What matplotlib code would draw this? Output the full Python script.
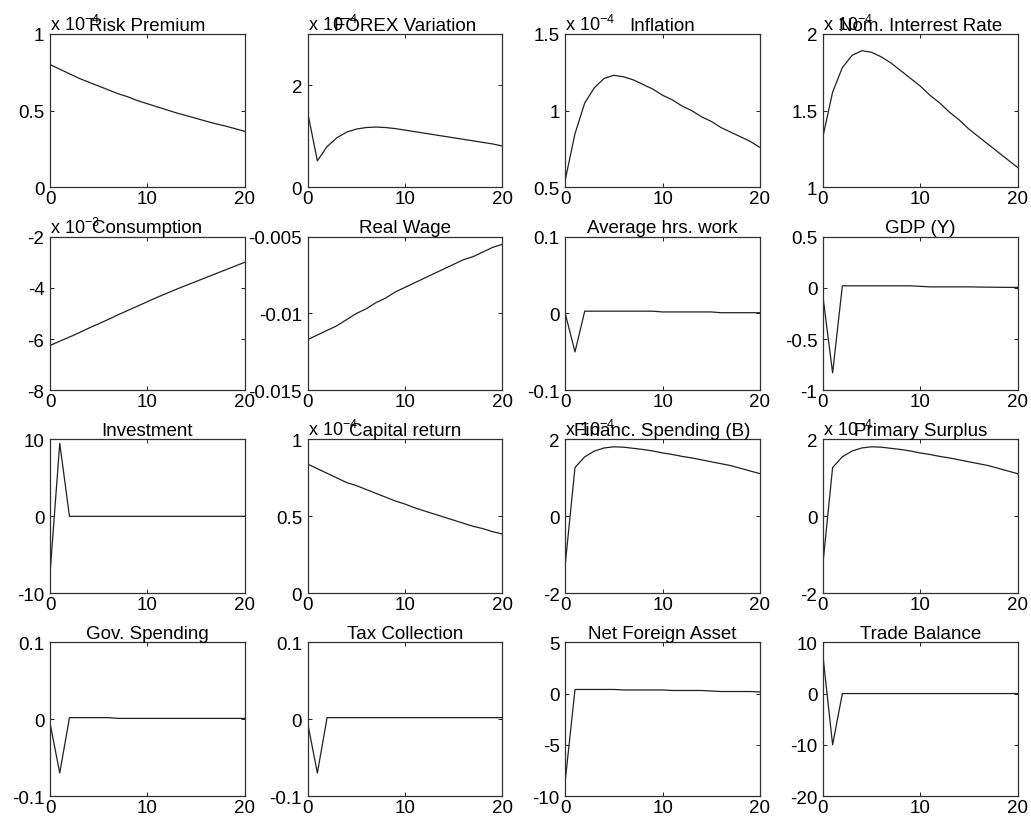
import numpy as np
import matplotlib
matplotlib.use('Agg')
import matplotlib.pyplot as plt

plt.rcParams['font.family'] = ['Liberation Sans', 'DejaVu Sans']
plt.rcParams['mathtext.default'] = 'regular'

# impulse responses, 21 periods
periods = list(range(21))

risk_premium = [0.80, 0.77, 0.74, 0.71, 0.685, 0.66, 0.635, 0.61, 0.59, 0.565, 0.545,
                0.525, 0.505, 0.485, 0.468, 0.45, 0.432, 0.415, 0.40, 0.383, 0.365]
forex = [1.47, 0.52, 0.80, 0.97, 1.08, 1.14, 1.17, 1.18, 1.17, 1.15, 1.12,
         1.09, 1.06, 1.03, 1.00, 0.97, 0.94, 0.91, 0.88, 0.85, 0.81]
inflation = [0.55, 0.85, 1.05, 1.15, 1.21, 1.23, 1.22, 1.20, 1.17, 1.14, 1.10,
             1.07, 1.03, 1.00, 0.96, 0.93, 0.89, 0.86, 0.83, 0.80, 0.76]
nom_rate = [1.33, 1.62, 1.78, 1.86, 1.89, 1.88, 1.85, 1.81, 1.76, 1.71, 1.66,
            1.60, 1.55, 1.49, 1.44, 1.38, 1.33, 1.28, 1.23, 1.18, 1.13]
consumption = [-6.25, -6.08, -5.92, -5.75, -5.57, -5.40, -5.23, -5.05, -4.88, -4.71, -4.54,
               -4.37, -4.21, -4.05, -3.90, -3.75, -3.60, -3.45, -3.30, -3.15, -3.00]
real_wage = [-0.0117, -0.0114, -0.0111, -0.0108, -0.0104, -0.0100, -0.0097, -0.0093, -0.0090,
             -0.0086, -0.0083, -0.0080, -0.0077, -0.0074, -0.0071, -0.0068, -0.0065, -0.0063,
             -0.0060, -0.0057, -0.0055]
hours = [0.0, -0.05, 0.003, 0.003, 0.003, 0.003, 0.003, 0.003, 0.003, 0.003, 0.002,
         0.002, 0.002, 0.002, 0.002, 0.002, 0.001, 0.001, 0.001, 0.001, 0.001]
gdp = [-0.08, -0.83, 0.02, 0.02, 0.02, 0.02, 0.02, 0.02, 0.02, 0.02, 0.015,
       0.01, 0.01, 0.01, 0.01, 0.01, 0.008, 0.007, 0.006, 0.005, 0.005]
investment = [-7.5, 9.5, 0.0, 0.0, 0.0, 0.0, 0.0, 0.0, 0.0, 0.0, 0.0,
              0.0, 0.0, 0.0, 0.0, 0.0, 0.0, 0.0, 0.0, 0.0, 0.0]
capital_return = [0.84, 0.81, 0.78, 0.75, 0.72, 0.70, 0.675, 0.65, 0.625, 0.60, 0.58,
                  0.555, 0.535, 0.515, 0.495, 0.475, 0.455, 0.435, 0.42, 0.40, 0.385]
fin_spending = [-1.25, 1.27, 1.55, 1.70, 1.78, 1.81, 1.80, 1.77, 1.74, 1.70, 1.65,
                1.61, 1.56, 1.52, 1.47, 1.42, 1.37, 1.32, 1.25, 1.18, 1.11]
primary_surplus = [-1.25, 1.27, 1.55, 1.70, 1.78, 1.81, 1.80, 1.77, 1.74, 1.70, 1.65,
                   1.61, 1.56, 1.52, 1.47, 1.42, 1.37, 1.32, 1.25, 1.18, 1.11]
gov_spending = [-0.005, -0.07, 0.002, 0.002, 0.002, 0.002, 0.002, 0.001, 0.001, 0.001, 0.001,
                0.001, 0.001, 0.001, 0.001, 0.001, 0.001, 0.001, 0.001, 0.001, 0.001]
tax = [-0.005, -0.07, 0.002, 0.002, 0.002, 0.002, 0.002, 0.002, 0.002, 0.002, 0.002,
       0.002, 0.002, 0.002, 0.002, 0.002, 0.002, 0.002, 0.002, 0.002, 0.002]
nfa = [-8.5, 0.4, 0.4, 0.4, 0.4, 0.4, 0.35, 0.35, 0.35, 0.35, 0.35,
       0.3, 0.3, 0.3, 0.3, 0.25, 0.2, 0.2, 0.2, 0.2, 0.15]
trade_balance = [7.5, -10.0, 0.0, 0.0, 0.0, 0.0, 0.0, 0.0, 0.0, 0.0, 0.0,
                 0.0, 0.0, 0.0, 0.0, 0.0, 0.0, 0.0, 0.0, 0.0, 0.0]

titles = ['Risk Premium', 'FOREX Variation', 'Inflation', 'Nom. Interrest Rate',
          'Consumption', 'Real Wage', 'Average hrs. work', 'GDP (Y)',
          'Investment', 'Capital return', 'Financ. Spending (B)', 'Primary Surplus',
          'Gov. Spending', 'Tax Collection', 'Net Foreign Asset', 'Trade Balance']
series = [risk_premium, forex, inflation, nom_rate,
          consumption, real_wage, hours, gdp,
          investment, capital_return, fin_spending, primary_surplus,
          gov_spending, tax, nfa, trade_balance]
exponents = ['-4', '-4', '-4', '-4', '-3', None, None, None,
             None, '-4', '-4', '-4', None, None, None, None]
ylims = [(0, 1), (0, 3), (0.5, 1.5), (1, 2),
         (-8, -2), (-0.015, -0.005), (-0.1, 0.1), (-1, 0.5),
         (-10, 10), (0, 1), (-2, 2), (-2, 2),
         (-0.1, 0.1), (-0.1, 0.1), (-10, 5), (-20, 10)]
yticks = [[0, 0.5, 1], [0, 2], [0.5, 1, 1.5], [1, 1.5, 2],
          [-8, -6, -4, -2], [-0.015, -0.01, -0.005], [-0.1, 0, 0.1], [-1, -0.5, 0, 0.5],
          [-10, 0, 10], [0, 0.5, 1], [-2, 0, 2], [-2, 0, 2],
          [-0.1, 0, 0.1], [-0.1, 0, 0.1], [-10, -5, 0, 5], [-20, -10, 0, 10]]
yticklabels = [['0', '0.5', '1'], ['0', '2'], ['0.5', '1', '1.5'], ['1', '1.5', '2'],
               ['-8', '-6', '-4', '-2'], ['-0.015', '-0.01', '-0.005'], ['-0.1', '0', '0.1'],
               ['-1', '-0.5', '0', '0.5'],
               ['-10', '0', '10'], ['0', '0.5', '1'], ['-2', '0', '2'], ['-2', '0', '2'],
               ['-0.1', '0', '0.1'], ['-0.1', '0', '0.1'], ['-10', '-5', '0', '5'],
               ['-20', '-10', '0', '10']]

fig, axes = plt.subplots(4, 4, figsize=(10.31, 8.29), dpi=100)
plt.subplots_adjust(left=0.0485, right=0.987, top=0.958, bottom=0.0386,
                    wspace=0.323, hspace=0.32)

for i, ax in enumerate(axes.flat):
    ax.plot(periods, series[i], color='#202020', linewidth=0.9)
    ax.set_xlim(0, 20)
    ax.set_ylim(*ylims[i])
    ax.set_xticks([0, 10, 20])
    ax.set_xticklabels(['0', '10', '20'])
    ax.set_yticks(yticks[i])
    ax.set_yticklabels(yticklabels[i])
    ax.tick_params(direction='in', length=3, width=0.6, top=True, right=True,
                   labelsize=13.5, colors='black')
    ax.tick_params(axis='y', pad=4)
    ax.tick_params(axis='x', pad=2)
    for sp in ax.spines.values():
        sp.set_linewidth(0.9)
        sp.set_color('#303030')
    ax.set_title(titles[i], fontsize=13.5, pad=3)
    if exponents[i] is not None:
        ax.text(0, 1.0, 'x 10$^{' + exponents[i] + '}$', transform=ax.transAxes,
                ha='left', va='bottom', fontsize=13)

plt.savefig('out.png', dpi=100)
